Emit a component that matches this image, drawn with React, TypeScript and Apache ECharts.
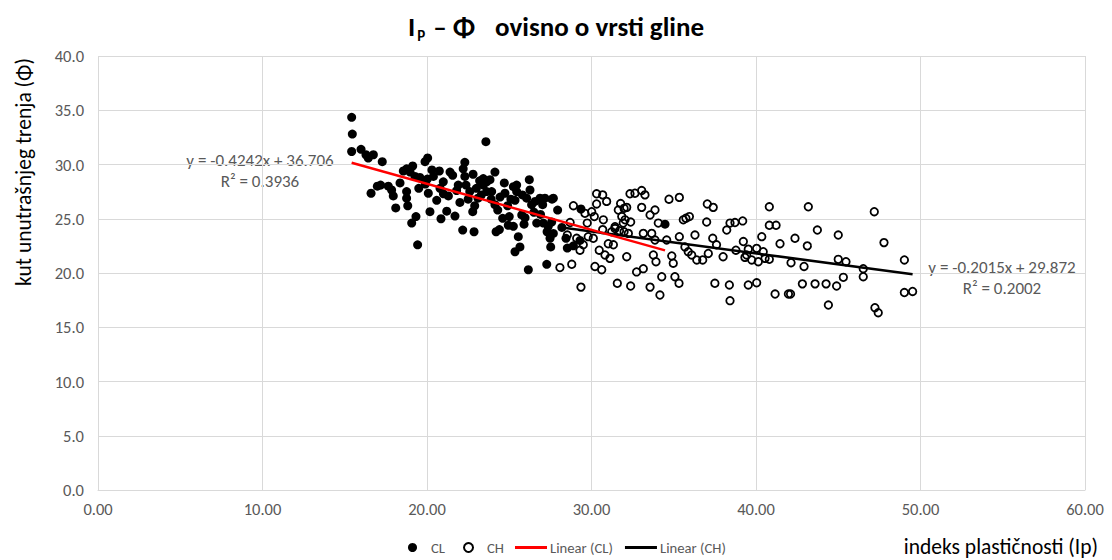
import React, { useEffect, useRef } from "react";
import * as echarts from "echarts";

const FONT = "Carlito, Lato, 'Open Sans', sans-serif";

// CL (filled) points
const clX = [
  15.42, 15.46, 15.42, 15.99, 16.29, 16.43, 16.74, 17.28, 16.6, 16.98, 17.18, 17.65, 17.85, 17.95, 18.1,
  18.36, 18.56, 18.76, 18.97, 19.13, 19.27, 18.76, 18.76, 18.83, 19.33, 19.07, 19.43, 19.5, 19.57, 19.88,
  20.04, 20.08, 20.18, 20.02, 20.39, 20.59, 20.75, 20.79, 20.85, 20.99, 21.2, 21.3, 21.4, 21.56, 21.7,
  21.9, 22.17, 22.3, 22.3, 22.37, 22.5, 22.78, 22.86, 22.8, 22.6, 23.0, 23.1, 23.42, 23.58, 23.63,
  24.13, 23.63, 23.42, 23.83, 23.93, 24.13, 24.44, 24.74, 24.4, 24.6, 24.94, 25.0, 25.25, 25.35, 25.55,
  25.65, 25.25, 25.45, 25.35, 25.45, 25.76, 25.96, 26.06, 26.22, 26.26, 26.36, 26.16, 26.57, 26.67, 26.87,
  27.03, 27.07, 27.17, 27.28, 27.37, 27.48, 27.52, 27.68, 27.58, 27.94, 28.53, 29.36, 34.47, 27.68, 27.6,
  28.45, 28.9, 29.3, 28.2, 21.0, 21.8, 22.0, 22.9, 23.3, 23.9, 24.3, 24.9, 25.1, 25.8, 26.5,
  24.7, 20.3, 19.9, 22.2, 23.2, 25.9, 26.9, 27.3, 24.2,
];
const clY = [
  34.35, 32.8, 31.2, 31.4, 30.9, 30.6, 30.9, 30.26, 27.35, 28.0, 28.1, 28.0, 27.65, 27.1, 26.0,
  28.3, 29.4, 29.6, 29.3, 29.86, 28.9, 27.5, 26.9, 26.2, 25.2, 24.6, 22.6, 27.8, 28.8, 30.26,
  30.6, 27.35, 25.65, 28.66, 28.9, 26.7, 29.4, 27.8, 25.0, 28.4, 25.7, 27.1, 29.3, 29.0, 25.25,
  28.1, 23.96, 30.2, 28.9, 28.1, 26.8, 25.65, 23.8, 29.1, 27.5, 27.8, 26.9, 28.1, 32.1, 27.5,
  29.3, 28.4, 28.7, 28.6, 27.5, 26.3, 27.0, 27.35, 24.0, 25.04, 24.4, 25.2, 24.3, 21.96, 23.35,
  22.4, 27.96, 28.1, 26.7, 27.5, 25.35, 25.1, 26.9, 28.6, 27.65, 26.3, 20.3, 26.6, 24.6, 26.9,
  26.3, 24.6, 26.9, 20.8, 24.3, 23.2, 22.4, 26.9, 24.7, 25.8, 22.3, 25.9, 24.5, 23.65, 26.8,
  23.2, 22.5, 23.0, 24.2, 27.3, 27.6, 26.5, 26.2, 27.2, 26.8, 25.8, 26.2, 26.8, 27.2, 25.6,
  28.3, 29.5, 28.2, 29.6, 28.5, 24.5, 25.4, 23.8, 23.8,
];

// CH (open) points
const chX = [
  30.68, 30.92, 30.72, 30.68, 30.62, 30.82, 31.12, 31.02, 31.23, 31.33, 31.43, 31.63, 31.77, 31.84, 31.93,
  31.98, 32.14, 32.14, 31.57, 32.38, 32.34, 32.38, 32.64, 32.74, 33.05, 33.25, 33.05, 33.15, 33.15, 33.56,
  33.56, 33.66, 33.86, 33.76, 33.86, 33.92, 34.06, 34.16, 34.27, 34.57, 34.71, 34.88, 34.97, 35.07, 35.32,
  35.34, 35.34, 35.58, 35.74, 35.95, 35.68, 35.88, 36.29, 36.09, 36.4, 36.76, 37.0, 37.04, 37.4, 37.1,
  37.37, 37.5, 37.6, 38.0, 38.22, 38.42, 38.38, 38.42, 38.72, 38.78, 39.19, 39.23, 39.43, 39.53, 39.53,
  40.04, 40.04, 40.35, 40.44, 39.33, 39.74, 40.14, 40.55, 40.81, 40.81, 40.81, 41.22, 41.46, 41.16, 41.97,
  42.1, 42.13, 42.37, 42.82, 42.92, 43.18, 43.12, 43.59, 43.73, 44.26, 44.4, 44.9, 45.0, 45.0, 45.31,
  45.47, 46.52, 46.52, 47.19, 47.23, 47.43, 47.78, 49.02, 49.02, 49.52, 28.08, 28.8, 29.36, 28.9, 28.53,
  28.7, 29.1, 29.3, 29.5, 29.6, 29.8, 29.74, 30.01, 30.17, 30.11, 30.21, 30.31, 30.31, 30.47, 31.98,
  31.43, 31.7, 32.04, 32.24,
];
const chY = [
  27.2, 26.6, 24.9, 24.0, 20.3, 21.66, 21.35, 22.7, 23.8, 22.6, 24.27, 25.8, 26.4, 25.2, 24.6,
  23.8, 26.05, 21.5, 19.05, 24.7, 27.3, 18.8, 27.35, 20.1, 27.6, 27.2, 26.05, 20.4, 23.65, 18.7,
  25.35, 23.65, 25.8, 21.66, 23.04, 21.04, 24.6, 17.97, 19.66, 23.04, 26.8, 21.57, 20.9, 19.66, 19.05,
  26.97, 23.35, 24.9, 25.04, 25.2, 22.4, 21.96, 23.5, 21.66, 21.2, 21.2, 24.7, 26.36, 26.05, 21.8,
  23.2, 19.05, 22.6, 21.5, 23.96, 24.6, 18.9, 17.45, 24.65, 22.1, 24.8, 22.9, 21.66, 18.9, 22.2,
  19.1, 22.27, 23.35, 21.96, 21.44, 21.2, 21.04, 21.35, 21.26, 26.1, 24.4, 24.4, 22.7, 18.06, 18.06,
  18.06, 20.95, 23.2, 19.0, 20.6, 26.1, 22.5, 19.0, 23.96, 19.0, 17.05, 18.8, 23.5, 21.26, 19.6,
  21.04, 20.4, 19.66, 25.65, 16.8, 16.34, 22.8, 21.2, 18.2, 18.3, 20.5, 20.8, 18.7, 26.2, 23.5,
  24.65, 23.2, 22.1, 22.6, 25.5, 23.35, 24.6, 25.65, 25.2, 23.2, 20.6, 27.3, 26.36, 22.1, 25.96,
  24.1, 23.9, 24.9, 23.65,
];

// Trend line coefficients (as shown in the chart)
const clTrend = { slope: -0.4242, intercept: 36.706, r2: "0.3936" };
const chTrend = { slope: -0.2015, intercept: 29.872, r2: "0.2002" };

const xTicks = { min: 0, max: 60, interval: 10 };
const yTicks = { min: 0, max: 40, interval: 5 };

function pairs(xs: number[], ys: number[]) {
  return xs.map((x, i) => [x, ys[i]]);
}
function trendLine(xs: number[], t: { slope: number; intercept: number }) {
  const lo = Math.min(...xs);
  const hi = Math.max(...xs);
  return [
    [lo, t.slope * lo + t.intercept],
    [hi, t.slope * hi + t.intercept],
  ];
}
function eqText(t: { slope: number; intercept: number }) {
  return `y = ${t.slope.toFixed(4)}x + ${t.intercept.toFixed(3)}`;
}

export default function App() {
  const ref = useRef<HTMLDivElement>(null);
  useEffect(() => {
    const chart = echarts.init(ref.current!, null, { renderer: "svg" });
    const grey = "#595959";
    const labelStyle = (text: string, x: number, y: number) => ({
      type: "text",
      x,
      y,
      style: { text, fill: grey, fontSize: 17, fontFamily: FONT, textAlign: "center", textVerticalAlign: "middle" },
    });
    const tBase = { fontWeight: "bold", color: "#000", fontFamily: FONT, lineHeight: 34, verticalAlign: "middle" };
    const option: any = {
      animation: false,
      backgroundColor: "#ffffff",
      textStyle: { fontFamily: FONT },
      title: [
        {
          text: "{a|I}{s|P}{d|–}{f|Φ}{r|ovisno o vrsti gline}",
          left: "center",
          top: 4,
          textStyle: {
            rich: {
              a: { ...tBase, fontSize: 27 },
              s: { ...tBase, fontSize: 15, lineHeight: 16, verticalAlign: "bottom", padding: [0, 0, 0, 2] },
              d: { ...tBase, fontSize: 27, padding: [0, 6, 0, 8] },
              f: { ...tBase, fontSize: 28 },
              r: { ...tBase, fontSize: 27, padding: [0, 0, 0, 20] },
            },
          },
        },
        {
          text: "indeks plastičnosti (Ip)",
          right: 9,
          top: 531,
          textStyle: { fontSize: 21.5, fontWeight: "normal", color: "#000", fontFamily: FONT },
        },
      ],
      grid: { left: 98, right: 27, top: 56, bottom: 70, containLabel: false },
      xAxis: {
        type: "value",
        min: xTicks.min,
        max: xTicks.max,
        interval: xTicks.interval,
        axisLine: { show: true, lineStyle: { color: "#d9d9d9", width: 1 } },
        axisTick: { show: false },
        axisLabel: { color: grey, fontSize: 16.5, margin: 10, fontFamily: FONT, formatter: (v: number) => v.toFixed(2) },
        splitLine: { show: true, lineStyle: { color: "#d9d9d9", width: 1 } },
      },
      yAxis: {
        type: "value",
        min: yTicks.min,
        max: yTicks.max,
        interval: yTicks.interval,
        axisLine: { show: false },
        axisTick: { show: false },
        axisLabel: { color: grey, fontSize: 16.5, margin: 14, fontFamily: FONT, formatter: (v: number) => v.toFixed(1) },
        splitLine: { show: true, lineStyle: { color: "#d9d9d9", width: 1 } },
      },
      legend: [
        {
          data: [
            { name: "CL", icon: "circle", itemStyle: { color: "#000" } },
            { name: "CH", icon: "circle", itemStyle: { color: "transparent", borderColor: "#000", borderWidth: 2 } },
          ],
          left: 408,
          top: 540,
          padding: 0,
          itemWidth: 9,
          itemHeight: 9,
          itemGap: 18,
          textStyle: { color: grey, fontSize: 14.7, fontFamily: FONT, padding: [0, 0, 0, 9] },
        },
        {
          data: [
            { name: "Linear (CL)", icon: "rect", itemStyle: { color: "#ff0000" } },
            { name: "Linear (CH)", icon: "rect", itemStyle: { color: "#000" } },
          ],
          left: 515,
          top: 540,
          padding: 0,
          itemWidth: 32,
          itemHeight: 3,
          itemGap: 12,
          textStyle: { color: grey, fontSize: 14.7, fontFamily: FONT, padding: [0, 0, 0, -2] },
        },
      ],
      series: [
        {
          name: "CL",
          type: "scatter",
          data: pairs(clX, clY),
          symbol: "circle",
          symbolSize: 9,
          itemStyle: { color: "#000", opacity: 1 },
          z: 2,
        },
        {
          name: "CH",
          type: "scatter",
          data: pairs(chX, chY),
          symbol: "circle",
          symbolSize: 7.5,
          itemStyle: { color: "transparent", borderColor: "#000", borderWidth: 1.8, opacity: 1 },
          z: 3,
        },
        {
          name: "Linear (CL)",
          type: "line",
          data: trendLine(clX, clTrend),
          symbol: "none",
          lineStyle: { color: "#ff0000", width: 2.5 },
          itemStyle: { color: "#ff0000" },
          z: 5,
        },
        {
          name: "Linear (CH)",
          type: "line",
          data: trendLine(chX, chTrend),
          symbol: "none",
          lineStyle: { color: "#000", width: 2.5 },
          itemStyle: { color: "#000" },
          z: 4,
        },
      ],
      graphic: [
        {
          type: "text",
          x: 24,
          y: 172,
          rotation: Math.PI / 2,
          style: {
            text: "kut unutrašnjeg trenja (Φ)",
            fill: "#000",
            fontSize: 21.5,
            fontFamily: FONT,
            textAlign: "center",
            textVerticalAlign: "middle",
          },
        },
        labelStyle(eqText(clTrend), 260, 160),
        labelStyle(`R² = ${clTrend.r2}`, 260, 181),
        labelStyle(eqText(chTrend), 1002, 267),
        labelStyle(`R² = ${chTrend.r2}`, 1002, 288),
      ],
    };
    chart.setOption(option);
    return () => chart.dispose();
  }, []);
  return (
    <div
      ref={ref}
      style={{ position: "fixed", left: 0, top: 0, width: 1112, height: 560, background: "#fff" }}
    />
  );
}
